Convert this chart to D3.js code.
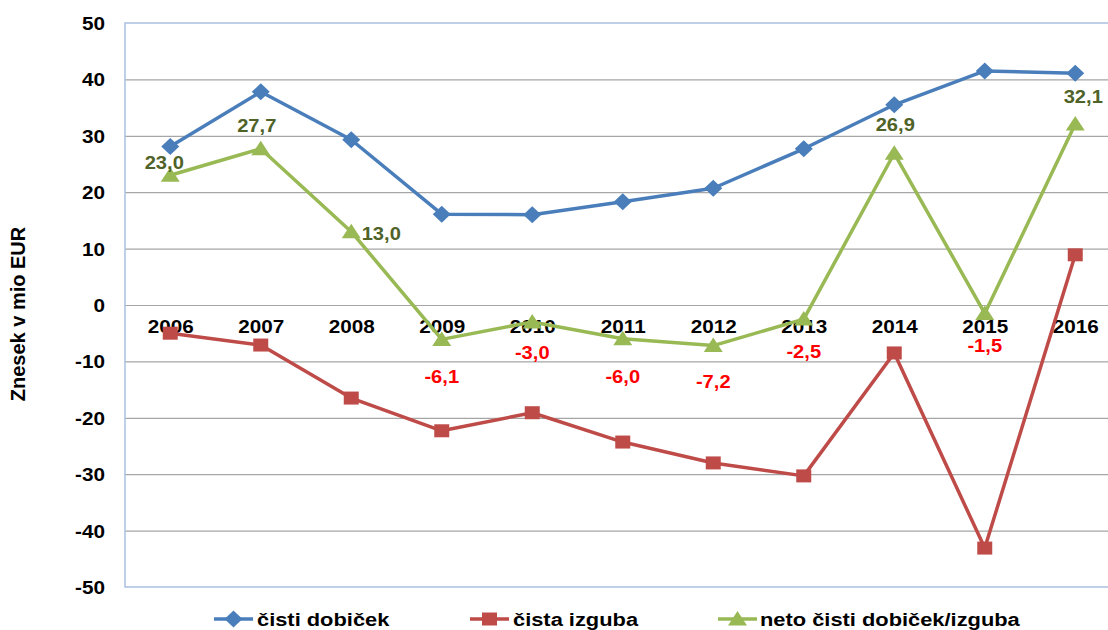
<!DOCTYPE html>
<html>
<head>
<meta charset="utf-8">
<script src="https://cdn.jsdelivr.net/npm/d3@7"></script>
<style>
  html, body { margin: 0; padding: 0; background: #fff; }
  svg { display: block; font-family: "Liberation Sans", Arial, sans-serif; font-weight: bold; }
</style>
</head>
<body>
<svg id="chart" width="1108" height="630"></svg>
<script>
const years = ["2006","2007","2008","2009","2010","2011","2012","2013","2014","2015","2016"];
const cistiDobicek = [28.1, 37.8, 29.3, 16.1, 16.0, 18.3, 20.7, 27.7, 35.5, 41.5, 41.1];
const cistaIzguba = [-5.0, -7.1, -16.5, -22.3, -19.1, -24.3, -28.0, -30.3, -8.5, -43.1, 8.9];
const netoDobicek = [23.0, 27.7, 13.0, -6.1, -3.0, -6.0, -7.2, -2.5, 26.9, -1.5, 32.1];
const yTicks = [50, 40, 30, 20, 10, 0, -10, -20, -30, -40, -50];
const seriesNames = ["čisti dobiček", "čista izguba", "neto čisti dobiček/izguba"];

const SX = 1.15; // horizontal text stretch
const svg = d3.select("#chart");
const L = 125, R = 1120.5, T = 23, B = 587;

const x = d3.scalePoint().domain(years).range([L, R]).padding(0.5);
const y = d3.scaleLinear().domain([-50, 50]).range([B, T]);

// gridlines
const grid = svg.append("g").attr("transform", `translate(${L},0)`)
  .call(d3.axisLeft(y).tickValues(yTicks.filter(v => v !== 50 && v !== -50)).tickSize(-(R - L)).tickFormat(""));
grid.select(".domain").remove();
grid.selectAll(".tick line").attr("stroke", "#a6a6a6").attr("stroke-width", 1.2);

// plot border (left, top, bottom)
svg.append("path")
  .attr("d", `M${R},${y(50)}H${L}V${y(-50)}H${R}`)
  .attr("fill", "none").attr("stroke", "#a9c0e0").attr("stroke-width", 1.5);

// y axis labels
const yAxis = svg.append("g").attr("transform", `translate(${L},0)`)
  .call(d3.axisLeft(y).tickValues(yTicks).tickSize(0).tickFormat(d => d3.format("d")(d).replace("−", "-")));
yAxis.select(".domain").remove();
yAxis.selectAll(".tick text")
  .attr("x", -20 / SX).attr("dy", "0.36em")
  .attr("transform", `scale(${SX},1)`)
  .attr("font-size", 18).attr("font-weight", "bold")
  .attr("font-family", "Liberation Sans, Arial, sans-serif")
  .attr("fill", "#000");

// y axis title
svg.append("text")
  .attr("transform", "translate(25,314) rotate(-90)")
  .attr("text-anchor", "middle")
  .attr("font-size", 20).attr("fill", "#000")
  .text("Znesek v mio EUR");

// x axis labels at zero line
const xAxis = svg.append("g").attr("transform", `translate(0,${y(0)})`)
  .call(d3.axisBottom(x).tickSize(0));
xAxis.select(".domain").remove();
xAxis.selectAll(".tick text")
  .attr("y", 0).attr("dy", "1.55em")
  .attr("transform", `scale(${SX},1)`)
  .attr("font-size", 18).attr("font-weight", "bold")
  .attr("font-family", "Liberation Sans, Arial, sans-serif")
  .attr("fill", "#000");

const colors = ["#4a7ebb", "#be4b48", "#98b954"];
const datasets = [cistiDobicek, cistaIzguba, netoDobicek];

function markerPath(kind) {
  if (kind === 0) return "M0,-8.5L9,0L0,8.5L-9,0Z";
  if (kind === 1) return "M-7.5,-6.5H7.5V6.5H-7.5Z";
  return "M0,-8L9.5,6.5H-9.5Z";
}

const line = d3.line().x((d, i) => x(years[i])).y(d => y(d));

datasets.forEach((data, k) => {
  const g = svg.append("g");
  g.append("path").datum(data)
    .attr("d", line).attr("fill", "none")
    .attr("stroke", colors[k]).attr("stroke-width", 3.5).attr("stroke-linejoin", "round");
  g.selectAll("path.m").data(data).join("path").attr("class", "m")
    .attr("transform", (d, i) => `translate(${x(years[i])},${y(d)})`)
    .attr("d", markerPath(k)).attr("fill", colors[k]);
});

// data labels for net series
const fmt = v => d3.format(".1f")(v).replace(".", ",").replace("−", "-");
const labelOffsets = [
  [-6, -6], [-4, -17], [30, 8], [0, 44], [0, 37], [0, 44], [0, 42], [0, 39], [1, -22], [0, 39], [8, -21]
];
svg.append("g").selectAll("text").data(netoDobicek).join("text")
  .attr("transform", (d, i) => `translate(${x(years[i]) + labelOffsets[i][0]},${y(d) + labelOffsets[i][1]}) scale(${SX},1)`)
  .attr("text-anchor", "middle")
  .attr("font-size", 17.5)
  .attr("fill", d => d < 0 ? "#ff0000" : "#4f6228")
  .text(d => fmt(d));

// legend
const legendItems = [
  { x1: 214, x2: 253, tx: 257 },
  { x1: 470, x2: 509, tx: 513 },
  { x1: 718, x2: 757, tx: 760 }
];
const ly = 619;
legendItems.forEach((it, k) => {
  svg.append("line").attr("x1", it.x1).attr("x2", it.x2).attr("y1", ly).attr("y2", ly)
    .attr("stroke", colors[k]).attr("stroke-width", 3.5);
  svg.append("path").attr("transform", `translate(${(it.x1 + it.x2) / 2},${ly})`)
    .attr("d", markerPath(k)).attr("fill", colors[k]);
  svg.append("text").attr("transform", `translate(${it.tx},${ly + 7}) scale(${SX},1)`)
    .attr("font-size", 19).attr("fill", "#000").text(seriesNames[k]);
});
</script>
</body>
</html>
